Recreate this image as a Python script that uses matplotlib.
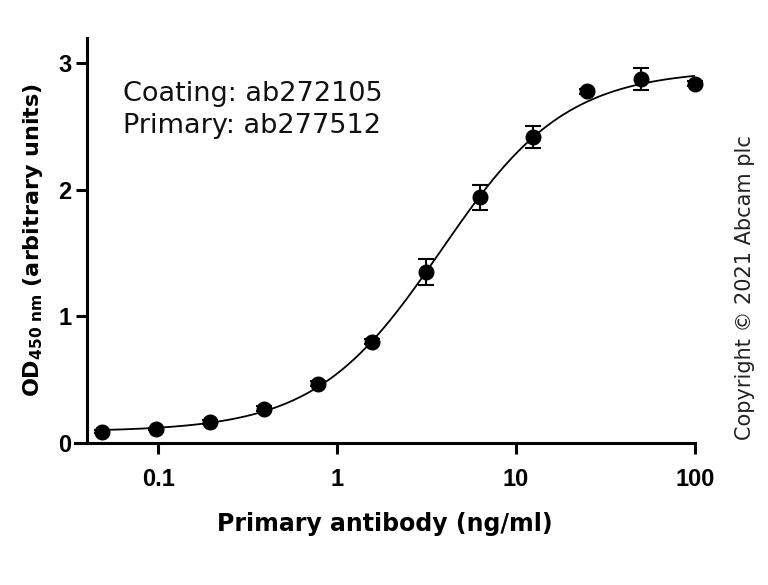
import numpy as np
import matplotlib
matplotlib.use("Agg")
import matplotlib.pyplot as plt

# -- data
conc = [0.0488, 0.0977, 0.195, 0.39, 0.78, 1.5625, 3.125, 6.25, 12.5, 25, 50, 100]
od = [0.09, 0.11, 0.165, 0.27, 0.47, 0.80, 1.35, 1.94, 2.42, 2.78, 2.88, 2.84]
od_err = [0.01, 0.01, 0.015, 0.02, 0.02, 0.02, 0.105, 0.095, 0.087, 0.02, 0.087, 0.02]

# 4PL fit parameters (bottom, top, EC50, hill)
fit_bottom = 0.09
fit_top = 2.95
fit_ec50 = 3.8
fit_hill = 1.24

xticks = [0.1, 1, 10, 100]
xticklabels = ["0.1", "1", "10", "100"]
yticks = [0, 1, 2, 3]

plt.rcParams['font.family'] = ['DejaVu Sans']
plt.rcParams['mathtext.fontset'] = 'custom'
plt.rcParams['mathtext.rm'] = 'DejaVu Sans:bold'

fig = plt.figure(figsize=(7.68, 5.85), dpi=100)
ax = fig.add_axes([0.0977, 0.2427, 0.8073, 0.6923])

xs = np.logspace(np.log10(conc[0]), np.log10(conc[-1]), 300)
ys = fit_bottom + (fit_top - fit_bottom) / (1 + (fit_ec50 / xs) ** fit_hill)
ax.plot(xs, ys, color='black', lw=1.3, zorder=2)

eb = ax.errorbar(conc, od, yerr=od_err, fmt='o', color='black', ms=10.5,
                 capsize=5.5, capthick=1.5, elinewidth=1.5, zorder=3)
for art in eb.get_children():
  art.set_clip_on(False)

ax.set_xscale('log')
ax.set_xlim(0.0343, 100)
ax.set_ylim(0, 3.2)
ax.spines['left'].set_position(('data', 0.04))
ax.spines['top'].set_visible(False)
ax.spines['right'].set_visible(False)
for s in ('left', 'bottom'):
  ax.spines[s].set_linewidth(2.2)

# tick labels in a narrow bold face
tick_font = ['Liberation Sans Narrow', 'Liberation Sans', 'DejaVu Sans']
ax.set_xticks(xticks)
ax.xaxis.set_minor_locator(matplotlib.ticker.NullLocator())
ax.set_yticks(yticks)
ax.tick_params(direction='out', width=2.2, length=8)
ax.tick_params(axis='x', pad=10)
ax.tick_params(axis='y', pad=3)
ax.set_xticklabels(xticklabels, family=tick_font, fontweight='bold', fontsize=17)
ax.set_yticklabels([str(t) for t in yticks], family=tick_font, fontweight='bold', fontsize=17)

ax.set_xlabel('Primary antibody (ng/ml)', fontsize=17, fontweight='bold', labelpad=15)
ax.set_ylabel(r'OD$_{\mathrm{450\ nm}}$ (arbitrary units)', fontsize=16,
              fontweight='bold', labelpad=10)

ax.text(0.0637, 2.86, 'Coating: ab272105\nPrimary: ab277512', fontsize=19.5,
        va='top', ha='left', linespacing=1.3, color='#111111')

fig.text(0.970, 0.509, 'Copyright \u00a9 2021 Abcam plc', rotation=90,
         fontsize=15, ha='center', va='center', color='#222222')

fig.savefig('out.png', dpi=100)
